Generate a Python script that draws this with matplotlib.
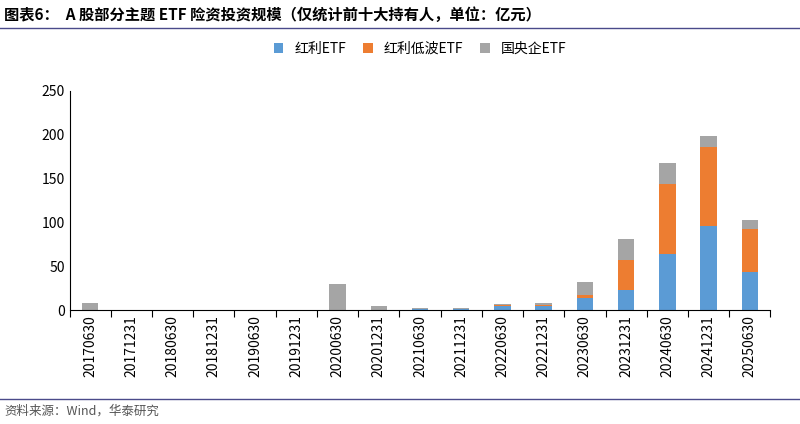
import matplotlib
matplotlib.use("Agg")
import matplotlib.pyplot as plt
import numpy as np

plt.rcParams['font.family'] = ['Noto Sans CJK SC', 'DejaVu Sans']

dates = ["20170630","20171231","20180630","20181231","20190630","20191231","20200630","20201231",
         "20210630","20211231","20220630","20221231","20230630","20231231","20240630","20241231","20250630"]
dividend = [0,0,0,0,0,0,0,0.5,1.5,1.5,5,5,14,23.6,64.7,95.9,43.8]
low_vol = [0,0,0,0,0,0,0,0,0,0.5,1,1,3,33.8,79.1,90.1,49]
soe = [8,0,0,0,0,0,30.5,4,1,0.5,0.8,2.3,15.7,24.4,24.2,13,9.9]

fig = plt.figure(figsize=(8, 4.24), dpi=100)
ax = fig.add_axes([0.087, 0.268, 0.876, 0.518])
x = np.arange(len(dates))
w = 0.4
d = np.array(dividend); l = np.array(low_vol); s = np.array(soe)
ax.bar(x, d, w, color='#5b9bd5', label='红利ETF')
ax.bar(x, l, w, bottom=d, color='#ed7d31', label='红利低波ETF')
ax.bar(x, s, w, bottom=d+l, color='#a5a5a5', label='国央企ETF')
ax.set_xlim(-0.5, len(dates)-0.5)
ax.set_ylim(0, 250)
ax.set_yticks(range(0, 251, 50))
ax.set_xticks(np.arange(-0.5, len(dates), 1), minor=False, labels=[])
ax.set_xticks(x, minor=True, labels=dates, rotation=90)
ax.tick_params(axis='x', which='major', length=5, direction='out')
ax.tick_params(axis='x', which='minor', length=0, labelsize=10)
ax.tick_params(axis='y', length=0, labelsize=10)
for sp in ['top', 'right']:
    ax.spines[sp].set_visible(False)
ax.legend(loc='upper center', bbox_to_anchor=(0.5, 1.28), ncol=3, frameon=False, fontsize=10,
          handlelength=0.7, handleheight=0.7, columnspacing=1.2)

fig.text(0.005, 0.965, '图表6：  A 股部分主题 ETF 险资投资规模（仅统计前十大持有人，单位：亿元）',
         fontsize=11, fontweight='bold', va='center')
fig.add_artist(plt.Line2D([0, 1], [0.935, 0.935], color='#4a4a8a', lw=1))
fig.add_artist(plt.Line2D([0, 1], [0.06, 0.06], color='#4a4a8a', lw=1))
fig.text(0.005, 0.03, '资料来源：Wind，华泰研究', fontsize=9, color='#555555', va='center')
fig.savefig('out.png', dpi=100)
